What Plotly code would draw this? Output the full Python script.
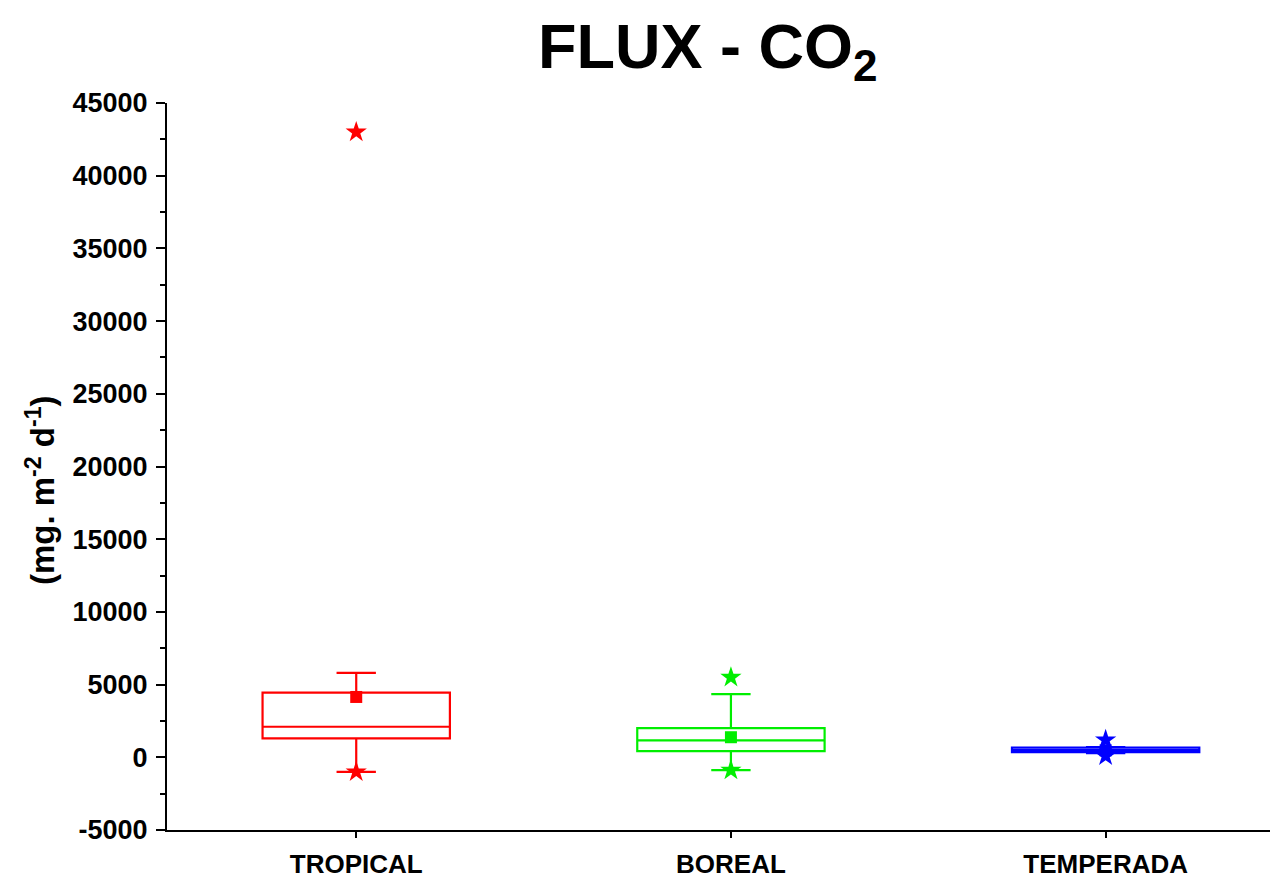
import plotly.graph_objects as go

categories = ["TROPICAL", "BOREAL", "TEMPERADA"]
colors = ["#ff0000", "#00ee00", "#0000ff"]
q1 = [1300, 420, 350]
median = [2100, 1170, 500]
q3 = [4450, 2000, 660]
lower_whisker = [-1000, -880, 280]
upper_whisker = [5800, 4350, 700]
means = [4150, 1380, 480]
min_points = [-1000, -880, 100]
max_points = [43000, 5500, 1200]
y_ticks = [-5000, 0, 5000, 10000, 15000, 20000, 25000, 30000, 35000, 40000, 45000]
y_tick_labels = ["-5000", "0", "5000", "10000", "15000", "20000", "25000",
                 "30000", "35000", "40000", "45000"]
y_title = "(mg. m<sup>-2</sup> d<sup>-1</sup>)"

FONT = "Liberation Sans, Arial, sans-serif"
fig = go.Figure()
for i, cat in enumerate(categories):
    fig.add_trace(go.Box(
        x=[i], q1=[q1[i]], median=[median[i]], q3=[q3[i]],
        lowerfence=[lower_whisker[i]], upperfence=[upper_whisker[i]],
        width=0.5, whiskerwidth=0.21, line=dict(color=colors[i], width=2.2),
        fillcolor="rgba(0,0,0,0)", boxpoints=False, showlegend=False,
        hoverinfo="skip"))
    fig.add_trace(go.Scatter(
        x=[i], y=[means[i]], mode="markers",
        marker=dict(symbol="square", size=12, color=colors[i]),
        showlegend=False))
    fig.add_trace(go.Scatter(
        x=[i, i], y=[min_points[i], max_points[i]], mode="markers",
        marker=dict(symbol="star", size=16, color=colors[i]),
        showlegend=False))

# page body has an 8px margin, so the figure is drawn 8px right and down
fig.update_layout(
    width=1270, height=872,
    margin=dict(l=159, r=0, t=95, b=50, autoexpand=False),
    paper_bgcolor="white", plot_bgcolor="white",
    title=dict(text="FLUX - CO<sub>2</sub>", x=0.551, xanchor="center",
               y=0.982, yanchor="top",
               font=dict(family=FONT, size=63, color="black", weight="bold")),
    font=dict(family=FONT, color="black"),
    annotations=[dict(text=y_title, textangle=-90, xref="paper", yref="paper",
                      x=-0.114, y=0.468, xanchor="center", yanchor="middle",
                      showarrow=False,
                      font=dict(family=FONT, size=33, color="black", weight="bold"))],
)
fig.update_xaxes(
    range=[-0.505, 2.46], tickvals=[0, 1, 2], ticktext=categories, automargin=False,
    showline=True, linecolor="black", linewidth=2, showgrid=False, zeroline=False,
    ticks="outside", ticklen=6, tickwidth=2, tickcolor="black", ticklabelstandoff=4,
    tickfont=dict(family=FONT, size=26, color="black", weight="bold"))
fig.update_yaxes(
    range=[-5000, 45000], tickvals=y_ticks, ticktext=y_tick_labels, automargin=False,
    showline=True, linecolor="black", linewidth=2, showgrid=False, zeroline=False,
    ticks="outside", ticklen=9, tickwidth=2, tickcolor="black", ticklabelstandoff=3,
    minor=dict(dtick=2500, ticks="outside", ticklen=5, tickwidth=2, tickcolor="black"),
    tickfont=dict(family=FONT, size=27, color="black", weight="bold"))

fig.write_html("out.html")
